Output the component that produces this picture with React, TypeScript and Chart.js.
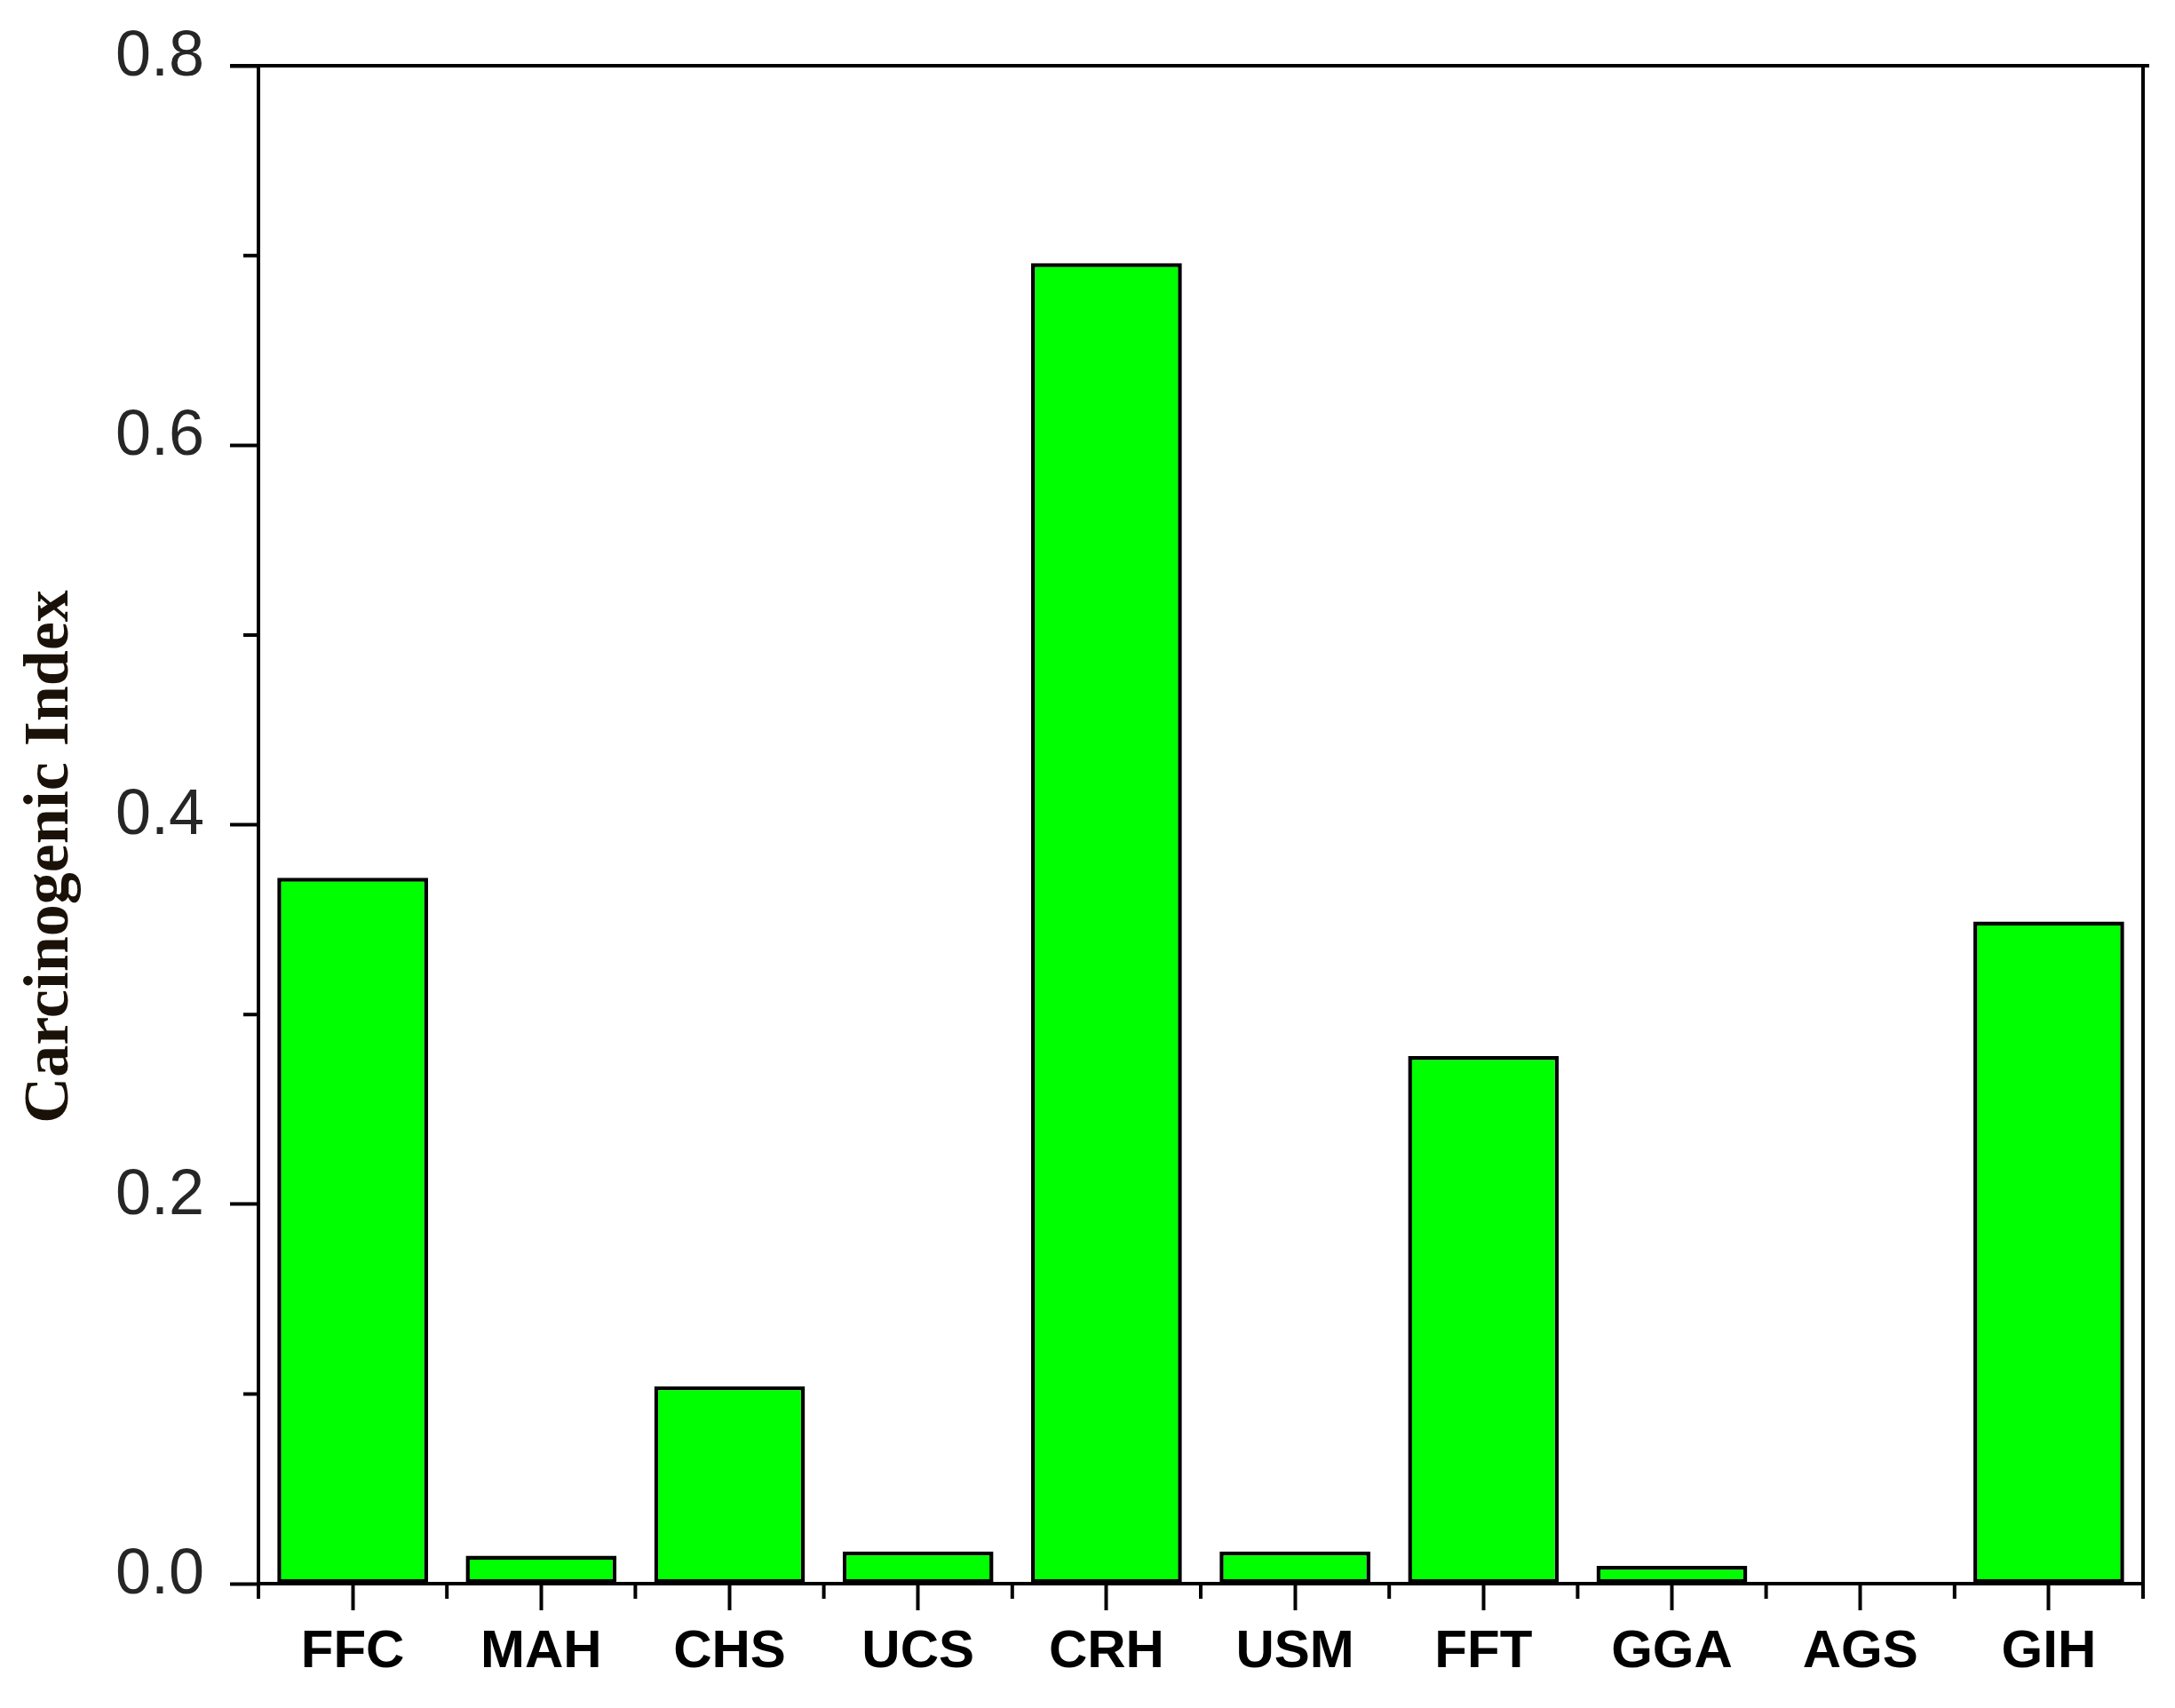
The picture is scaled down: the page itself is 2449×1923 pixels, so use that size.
import React, { useEffect, useRef } from "react";
import { Chart, registerables } from "chart.js";

Chart.register(...registerables);

const categories = ["FFC", "MAH", "CHS", "UCS", "CRH", "USM", "FFT", "GGA", "AGS", "GIH"];
const carcinogenicIndex = [0.372, 0.0147, 0.104, 0.017, 0.696, 0.017, 0.278, 0.0094, 0, 0.349];
const yMajorTicks = [0, 0.2, 0.4, 0.6, 0.8];
const yMinorTicks = [0.1, 0.3, 0.5, 0.7];
const yTitle = "Carcinogenic Index";

const W = 2449;
const H = 1923;

const frameAndMinorTicks = {
  id: "frameAndMinorTicks",
  afterDraw(chart: any) {
    const { ctx, chartArea } = chart;
    const x = chart.scales.x;
    const y = chart.scales.y;
    const { left, right, top, bottom } = chartArea;
    ctx.save();
    ctx.strokeStyle = "#000";
    ctx.lineWidth = 4;
    ctx.lineCap = "butt";
    ctx.beginPath();
    // top frame line
    ctx.moveTo(left - 32, top);
    ctx.lineTo(right + 7, top);
    // right frame line
    ctx.moveTo(right, top);
    ctx.lineTo(right, bottom + 17);
    // left axis minor tick below (category boundary 0)
    ctx.moveTo(left, bottom);
    ctx.lineTo(left, bottom + 17);
    // y minor ticks
    for (const v of yMinorTicks) {
      const py = y.getPixelForValue(v);
      ctx.moveTo(left, py);
      ctx.lineTo(left - 17, py);
    }
    // x minor ticks at category boundaries
    for (let i = 0; i < categories.length - 1; i++) {
      const px = (x.getPixelForTick(i) + x.getPixelForTick(i + 1)) / 2;
      ctx.moveTo(px, bottom);
      ctx.lineTo(px, bottom + 17);
    }
    ctx.stroke();
    ctx.restore();
  },
};

export default function App() {
  const canvasRef = useRef<HTMLCanvasElement | null>(null);

  useEffect(() => {
    if (!canvasRef.current) return;
    const chart = new Chart(canvasRef.current, {
      type: "bar",
      data: {
        labels: categories,
        datasets: [
          {
            label: yTitle,
            data: carcinogenicIndex,
            backgroundColor: "#00ff00",
            borderColor: "#000000",
            borderWidth: 4.5,
            borderSkipped: false,
            barPercentage: 0.8,
            categoryPercentage: 1.0,
          },
        ],
      },
      options: {
        responsive: false,
        animation: false,
        devicePixelRatio: 1,
        layout: { padding: { top: 74, right: 36, left: 0, bottom: 0 } },
        plugins: {
          legend: { display: false },
          tooltip: { enabled: false },
        },
        scales: {
          x: {
            type: "category",
            grid: {
              display: true,
              drawOnChartArea: false,
              drawTicks: true,
              tickLength: 30,
              tickWidth: 4,
              tickColor: "#000",
              offset: false,
            },
            border: { display: true, color: "#000", width: 4 },
            ticks: {
              color: "#000",
              padding: 11,
              maxRotation: 0,
              font: {
                family: "'Liberation Sans Narrow', 'Liberation Sans', Arial, sans-serif",
                size: 60,
                weight: "bold",
              },
            },
            afterFit(scale: any) {
              scale.height = 140;
            },
          },
          y: {
            type: "linear",
            min: 0,
            max: 0.8,
            afterBuildTicks(scale: any) {
              scale.ticks = yMajorTicks.map((v) => ({ value: v }));
            },
            grid: {
              display: true,
              drawOnChartArea: false,
              drawTicks: true,
              tickLength: 32,
              tickWidth: 4,
              tickColor: "#000",
            },
            border: { display: true, color: "#000", width: 4 },
            ticks: {
              color: "#262626",
              padding: 29,
              font: {
                family: "'Liberation Sans', Arial, sans-serif",
                size: 72,
                lineHeight: "18px",
              },
              callback: (value: any) => [Number(value).toFixed(1), ""],
            },
            title: {
              display: true,
              text: yTitle + "    ",
              color: "#1a1208",
              padding: { top: 14, bottom: 0 },
              font: {
                family: "'Liberation Serif', 'Times New Roman', serif",
                size: 72,
                weight: "bold",
              },
            },
            afterFit(scale: any) {
              scale.width = 291;
            },
          },
        },
      },
      plugins: [frameAndMinorTicks],
    });
    return () => chart.destroy();
  }, []);

  return (
    <div style={{ position: "fixed", left: 0, top: 0, width: W, height: H, background: "#fff" }}>
      <canvas ref={canvasRef} width={W} height={H} style={{ display: "block", width: W, height: H }} />
    </div>
  );
}
